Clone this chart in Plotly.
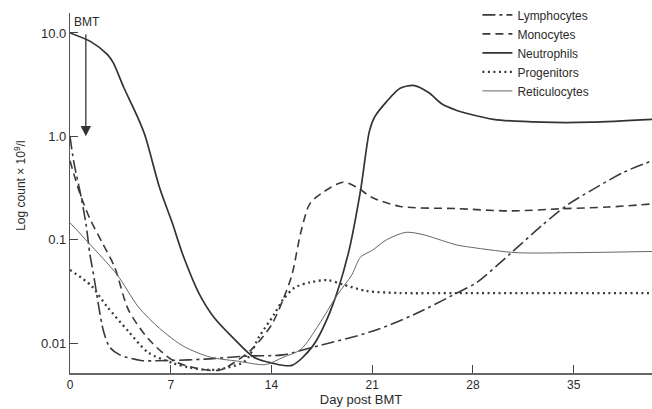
import plotly.graph_objects as go

# ---- data (days post BMT, counts x10^9/l) ----
series_names = ["Lymphocytes", "Monocytes", "Neutrophils", "Progenitors", "Reticulocytes"]

lymph_day = [0, 0.26, 0.78, 1.12, 1.38, 1.64, 2.33, 2.77, 3.46, 4.93, 6.9, 9.36, 12.37, 14.8, 16.85, 21.0, 23.94, 26.88, 28.27, 30.58, 32.83, 34.66, 36.22, 38.47, 40.44]
lymph_val = [1.0, 0.57, 0.256, 0.139, 0.073, 0.0457, 0.013, 0.0091, 0.0077, 0.0068, 0.0068, 0.0070, 0.0075, 0.0077, 0.0091, 0.013, 0.019, 0.0305, 0.0387, 0.073, 0.139, 0.222, 0.30, 0.45, 0.58]

mono_day = [0, 0.69, 1.38, 2.25, 3.11, 4.06, 5.44, 7.16, 8.79, 10.42, 12.62, 14.0, 14.81, 15.42, 16.04, 16.66, 17.46, 18.96, 19.95, 21.0, 22.94, 26.88, 30.58, 34.39, 37.38, 40.44]
mono_val = [0.58, 0.28, 0.16, 0.093, 0.054, 0.021, 0.011, 0.0068, 0.0057, 0.0055, 0.0087, 0.015, 0.0265, 0.0457, 0.118, 0.222, 0.28, 0.36, 0.32, 0.256, 0.21, 0.20, 0.19, 0.20, 0.207, 0.222]

neut_day = [0, 1.47, 2.59, 3.02, 3.72, 4.58, 5.19, 6.22, 7.08, 7.90, 8.95, 10.01, 11.4, 12.78, 14.06, 15.42, 16.85, 18.09, 19.33, 20.19, 20.81, 21.18, 22.0, 22.94, 23.94, 24.94, 25.88, 26.88, 27.47, 29.43, 32.83, 36.22, 40.44]
neut_val = [10.0, 8.2, 6.2, 5.1, 3.0, 1.67, 1.04, 0.32, 0.149, 0.068, 0.0305, 0.0177, 0.011, 0.0073, 0.0064, 0.0061, 0.0093, 0.0204, 0.073, 0.30, 1.13, 1.55, 2.17, 2.92, 3.1, 2.64, 2.04, 1.78, 1.68, 1.46, 1.37, 1.37, 1.46]

prog_day = [0, 1.47, 2.59, 4.06, 5.44, 7.16, 8.3, 9.77, 10.99, 12.21, 13.19, 14.19, 14.81, 15.61, 16.66, 17.9, 18.96, 20.57, 22.94, 26.88, 33.5, 40.44]
prog_val = [0.051, 0.036, 0.0224, 0.013, 0.0081, 0.0064, 0.0058, 0.0055, 0.0058, 0.0068, 0.0118, 0.019, 0.0265, 0.0344, 0.0387, 0.0406, 0.0369, 0.032, 0.0305, 0.0305, 0.0305, 0.0305]

retic_day = [0, 1.30, 3.28, 4.75, 6.22, 7.9, 9.77, 11.64, 13.59, 14.81, 16.04, 17.28, 18.52, 19.58, 20.19, 21.0, 22.0, 23.35, 24.53, 25.88, 26.88, 28.27, 30.99, 35.07, 40.44]
retic_val = [0.146, 0.093, 0.0457, 0.0224, 0.0139, 0.0093, 0.0073, 0.0067, 0.0062, 0.0073, 0.0087, 0.015, 0.0285, 0.0457, 0.068, 0.079, 0.10, 0.118, 0.112, 0.098, 0.089, 0.083, 0.075, 0.075, 0.077]

x_ticks = [0, 7, 14, 21, 28, 35]
y_ticks = [0.01, 0.1, 1, 10]
y_tick_text = ["0.01", "0.1", "1.0", "10.0"]

bmt_day = 1.1

# ---- styles ----
FONT = "Liberation Sans, Arial, sans-serif"
INK = "#2b2b2b"
styles = {
    "Lymphocytes": dict(color="#3a3a3a", width=1.6, dash="13px,4px,3px,4px"),
    "Monocytes": dict(color="#3a3a3a", width=1.6, dash="8px,5px"),
    "Neutrophils": dict(color="#333333", width=1.7, dash="solid"),
    "Progenitors": dict(color="#3a3a3a", width=2.3, dash="2px,3.5px"),
    "Reticulocytes": dict(color="#666666", width=1.0, dash="solid"),
}
data = {
    "Lymphocytes": (lymph_day, lymph_val),
    "Monocytes": (mono_day, mono_val),
    "Neutrophils": (neut_day, neut_val),
    "Progenitors": (prog_day, prog_val),
    "Reticulocytes": (retic_day, retic_val),
}

fig = go.Figure()
for name in series_names:
    xs, ys = data[name]
    fig.add_trace(go.Scatter(
        x=xs, y=ys, mode="lines", name=name,
        line=dict(shape="spline", smoothing=0.8, **styles[name]),
    ))

fig.update_layout(
    width=652, height=409,
    margin=dict(l=70, r=0, t=13, b=36, autoexpand=False),
    paper_bgcolor="white", plot_bgcolor="white",
    font=dict(family=FONT, size=12, color=INK),
    showlegend=True,
    legend=dict(
        x=0.70, y=1.035, xanchor="left", yanchor="top",
        bgcolor="rgba(0,0,0,0)", borderwidth=0,
        font=dict(family=FONT, size=12, color=INK),
        tracegroupgap=0,
    ),
    xaxis=dict(
        range=[0, 40.44], tickvals=x_ticks, ticks="inside", ticklen=8,
        tickcolor="#444", tickwidth=1.2,
        showline=True, linecolor="#666", linewidth=1.5,
        showgrid=False, zeroline=False,
        tickfont=dict(family=FONT, size=12, color=INK),
        title=dict(text="Day post BMT", font=dict(family=FONT, size=13, color=INK), standoff=4),
    ),
    yaxis=dict(
        type="log", range=[-2.289, 1.193],
        tickvals=y_ticks, ticktext=y_tick_text,
        ticks="inside", ticklen=8, tickcolor="#444", tickwidth=1.2,
        showline=True, linecolor="#555", linewidth=1.3,
        showgrid=False, zeroline=False,
        tickfont=dict(family=FONT, size=13, color=INK),
    ),
)

# y-axis title as rotated annotation
fig.add_annotation(
    text="Log count × 10<sup>9</sup>/l", xref="paper", yref="paper",
    x=-50 / 582, y=0.52, textangle=-90, showarrow=False,
    xanchor="center", yanchor="middle",
    font=dict(family=FONT, size=12, color=INK),
)

# BMT marker
fig.add_annotation(
    text="BMT", xref="paper", yref="paper", x=0.003, y=0.975,
    xanchor="left", yanchor="middle", showarrow=False,
    font=dict(family=FONT, size=12, color=INK),
)
fig.add_annotation(
    text="", x=bmt_day, y=0, xref="x", yref="y",
    ax=bmt_day, ay=1, axref="x", ayref="y",
    showarrow=True, arrowhead=2, arrowsize=1.6, arrowwidth=1.3, arrowcolor="#333",
)

# remove the default page margin so the figure fills the window exactly
fig.write_html(
    "out.html",
    config={"displayModeBar": False},
    post_script="document.body.style.margin='0';document.body.style.overflow='hidden';",
)
